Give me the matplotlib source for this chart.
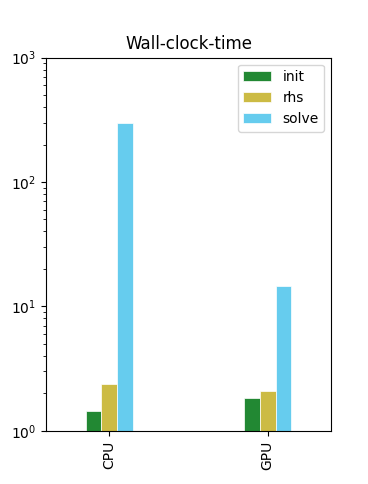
import matplotlib
matplotlib.use("Agg")
import matplotlib.pyplot as plt
import numpy as np

devices = ["CPU", "GPU"]
init = [1.43, 1.83]
rhs = [2.38, 2.08]
solve = [300, 14.5]

series = {"init": init, "rhs": rhs, "solve": solve}
colors = ["#228833", "#CCBB44", "#66CCEE"]

fig = plt.figure(figsize=(3.68, 4.84), dpi=100)
ax = fig.add_axes([0.125, 0.110, 0.7745, 0.771])

x = np.arange(len(devices))
width = 0.1
for i, (name, vals) in enumerate(series.items()):
    ax.bar(x + (i - 1) * width, vals, width, color=colors[i], label=name,
           edgecolor="white", linewidth=0.5)

ax.set_yscale("log")
ax.set_ylim(1, 1000)
ax.set_xlim(-0.4, 1.4)
ax.set_xticks(x)
ax.set_xticklabels(devices, rotation=90)
ax.set_title("Wall-clock-time")
ax.legend(loc="upper right")

fig.savefig("out.png", dpi=100)
